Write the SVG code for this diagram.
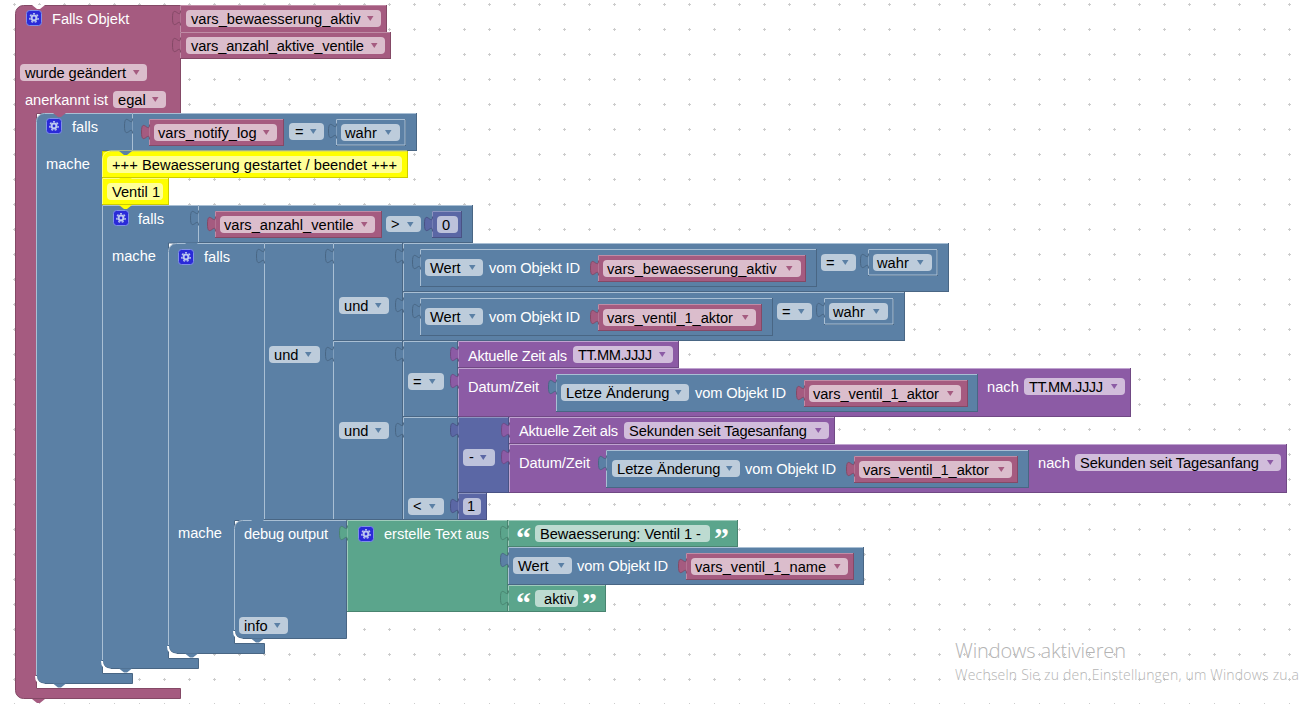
<svg xmlns="http://www.w3.org/2000/svg" width="1299" height="704" viewBox="0 0 1299 704">
<style>
text{font-family:"Liberation Sans",Arial,sans-serif;font-size:14.67px;fill:#000}
text.w{fill:#fff}
text.q{font-family:"Liberation Serif",serif;font-weight:bold;font-size:30px;fill:#fff}
text.wm{font-family:"Open Sans",sans-serif;font-weight:300;fill:#b4b4b4}
.bl{fill:#5b80a5;stroke:#496684}.m{fill:#a55b80;stroke:#844966}.p{fill:#8c5ba5;stroke:#704984}.i{fill:#5b67a5;stroke:#495284}.g{fill:#5ba58c;stroke:#498470}.y{fill:#ff0;stroke:#cc0}
.lb,.lm,.lp,.li,.lg,.ly,.cr{fill:none}
.lb{stroke:#a9bfd4}.lm{stroke:#c08ca6}.lp{stroke:#c0a4d0}.li{stroke:#8c95c0}.lg{stroke:#a0ccbc}.ly{stroke:#ffff80}
.cr{stroke:#fff;stroke-width:2}
.fb{fill:#bdccdb}.fm{fill:#dbbdcc}.fp{fill:#d1bddb}.fi{fill:#bdc2db}.fg{fill:#bddbd1}.fy{fill:#ff9}
.ab{fill:#5b80a5}.am{fill:#a55b80}.ap{fill:#8c5ba5}.ai{fill:#5b67a5}
.tb{fill:#5b80a5;stroke:#496684}.tm{fill:#a55b80;stroke:#844966}.tp{fill:#8c5ba5;stroke:#704984}.ti{fill:#5b67a5;stroke:#495284}.tg{fill:#5ba58c;stroke:#498470}
.nw{fill:#fff}.nm{fill:#a55b80}.nb{fill:#5b80a5}.ny{fill:#ff0}
</style>
<defs>
<pattern id="grid" patternUnits="userSpaceOnUse" width="25" height="25"><path d="M13 4.5h3M14.5 3v3" stroke="#ccc" stroke-width="1" fill="none"/></pattern>
<path id="a" d="M0 0h6.5l-3.25 5z"/>
<path id="tab" d="M0 0c0 10-8-8-8 7.5s8-2.5 8 7.5"/>
<path id="n" d="M0 0l5 4h3l5-4z"/>
<g id="gear">
<rect x="0.5" y="0.5" width="15" height="15" rx="3" fill="#2a2ad8" stroke="#7f8fe8"/>
<circle cx="8" cy="8" r="2.4" fill="none" stroke="#bcc8f0" stroke-width="2"/>
<circle cx="8" cy="8" r="4.2" fill="none" stroke="#bcc8f0" stroke-width="1.4" stroke-dasharray="2 1.66"/>
</g>
</defs>
<rect width="1299" height="704" fill="#fff"/>
<rect width="1299" height="704" fill="url(#grid)"/>

<g id="trigger">
<path class="m" d="M15.5 13.5a8 8 0 0 1 8-8H180.5V113.5H36.5V688.5H180.5V698.5H23.5a8 8 0 0 1-8-8z"/>
<use href="#n" x="32" y="5" class="nw"/>
<use href="#n" x="32" y="699" class="nm"/>
<use href="#gear" x="26" y="10"/>
<text class="w" x="52" y="24">Falls Objekt</text>
<rect class="fm" x="20" y="64" width="127" height="17" rx="4"/><text x="25" y="78" textLength="101">wurde geändert</text><use href="#a" x="133" y="70" class="am"/>
<text class="w" x="25" y="105" textLength="83">anerkannt ist</text>
<rect class="fm" x="113" y="91" width="53" height="17" rx="4"/><text x="118" y="105">egal</text><use href="#a" x="152" y="97" class="am"/>
</g>
<g id="var-bewaesserung">
<rect class="m" x="180.5" y="5.5" width="206" height="27"/><path class="lm" d="M180.5 32V5.5H386"/>
<use href="#tab" x="180.5" y="10.5" class="tm"/>
<rect class="fm" x="186" y="10" width="195" height="17" rx="4"/><text x="191" y="24">vars_bewaesserung_aktiv</text><use href="#a" x="367" y="16" class="am"/>
</g>
<g id="var-anzahl-aktive">
<rect class="m" x="180.5" y="32.5" width="210" height="26"/><path class="lm" d="M180.5 58V32.5H390"/>
<use href="#tab" x="180.5" y="37.5" class="tm"/>
<rect class="fm" x="186" y="37" width="199" height="17" rx="4"/><text x="191" y="51" textLength="173">vars_anzahl_aktive_ventile</text><use href="#a" x="371" y="43" class="am"/>
</g>

<g id="falls-1">
<path class="bl" d="M36.5 121.5a8 8 0 0 1 8-8H132.5V151H102.5V673.5H132.5V683.5H44.5a8 8 0 0 1-8-8z"/>
<path class="lb" d="M36.5 675V121.5a8 8 0 0 1 8-8H132"/>
<path class="cr" d="M36 676a8 8 0 0 0 8.500 8.500"/>
<use href="#n" x="53" y="113" class="nm"/>
<use href="#n" x="53" y="683.500" class="nb"/>
<use href="#gear" x="46" y="118"/>
<text class="w" x="72" y="132">falls</text>
<text class="w" x="46" y="169">mache</text>
</g>
<g id="cond-1">
<rect class="bl" x="132.5" y="113.5" width="284" height="37"/><path class="lb" d="M132.5 150V113.5H416"/>
<use href="#tab" x="132.5" y="118.5" class="tb"/>
<rect class="fb" x="289" y="123" width="35" height="17" rx="4"/><text x="295" y="137">=</text><use href="#a" x="310" y="129" class="ab"/>
</g>
<g id="var-notify">
<rect class="m" x="149.5" y="119.5" width="134" height="26"/><path class="lm" d="M149.5 145V119.5H283"/>
<use href="#tab" x="149.5" y="124.5" class="tm"/>
<rect class="fm" x="154" y="124" width="123" height="17" rx="4"/><text x="158" y="138">vars_notify_log</text><use href="#a" x="263" y="130" class="am"/>
</g>
<g id="wahr-1">
<rect class="bl" x="336.5" y="119.5" width="69" height="26"/><path class="lb" d="M336.5 145V119.5H405V145H337"/>
<use href="#tab" x="336.5" y="123.5" class="tb"/>
<rect class="fb" x="341" y="124" width="59" height="17" rx="4"/><text x="345" y="138">wahr</text><use href="#a" x="385" y="130" class="ab"/>
</g>

<g id="log-1">
<rect class="y" x="102.5" y="151.5" width="305" height="26"/><path class="ly" d="M102.5 177V159a8 8 0 0 1 8-8H407"/>
<use href="#n" x="119" y="151" class="nb"/>
<rect class="fy" x="107" y="156" width="295" height="17" rx="4"/><text x="112" y="170" textLength="285">+++ Bewaesserung gestartet / beendet +++</text>
</g>
<g id="log-2">
<rect class="y" x="102.5" y="178.5" width="66" height="26"/><path class="ly" d="M102.5 204V178.5H168"/>
<use href="#n" x="119" y="178" class="ny"/>
<rect class="fy" x="107" y="183" width="56" height="17" rx="4"/><text x="112" y="197">Ventil 1</text>
</g>

<g id="falls-2">
<path class="bl" d="M102.5 205.5H198.5V243H168.5V658.5H198.5V668.5H110.5a8 8 0 0 1-8-8z"/>
<path class="lb" d="M102.5 660V205.5H198"/>
<path class="cr" d="M102 661a8 8 0 0 0 8.500 8.500"/>
<use href="#n" x="119" y="205" class="ny"/>
<use href="#n" x="119" y="668.500" class="nb"/>
<use href="#gear" x="113" y="210"/>
<text class="w" x="138" y="224">falls</text>
<text class="w" x="112" y="261">mache</text>
</g>
<g id="cond-2">
<rect class="bl" x="198.5" y="205.5" width="274" height="37"/><path class="lb" d="M198.5 242V205.5H472"/>
<use href="#tab" x="198.5" y="210.5" class="tb"/>
<rect class="fb" x="386" y="216" width="35" height="16" rx="4"/><text x="391" y="229">&gt;</text><use href="#a" x="407" y="222" class="ab"/>
</g>
<g id="var-anzahl">
<rect class="m" x="215.5" y="211.5" width="166" height="26"/><path class="lm" d="M215.5 237V211.5H381"/>
<use href="#tab" x="215.5" y="216.5" class="tm"/>
<rect class="fm" x="220" y="216" width="155" height="17" rx="4"/><text x="224" y="230">vars_anzahl_ventile</text><use href="#a" x="361" y="222" class="am"/>
</g>
<g id="zero">
<rect class="i" x="432.5" y="211.5" width="29" height="26"/><path class="li" d="M432.5 237V211.5H461"/>
<use href="#tab" x="432.5" y="216.5" class="ti"/>
<rect class="fi" x="437" y="216" width="21" height="17" rx="4"/><text x="442" y="230">0</text>
</g>

<g id="falls-3">
<path class="bl" d="M168.5 251.5a8 8 0 0 1 8-8H264.5V520.5H234.5V643.5H264.5V653.5H176.5a8 8 0 0 1-8-8z"/>
<path class="lb" d="M168.5 645V251.5a8 8 0 0 1 8-8H264"/>
<path class="cr" d="M168 646a8 8 0 0 0 8.500 8.500"/>
<use href="#n" x="185" y="243" class="nb"/>
<use href="#n" x="185" y="653.500" class="nb"/>
<use href="#gear" x="178" y="249"/>
<text class="w" x="204" y="262">falls</text>
<text class="w" x="178" y="538">mache</text>
</g>
<g id="und-1">
<rect class="bl" x="264.5" y="243.5" width="69" height="276"/><path class="lb" d="M264.5 519V243.5H333"/>
<use href="#tab" x="264.5" y="248.5" class="tb"/>
<rect class="fb" x="269" y="346" width="51" height="17" rx="4"/><text x="274" y="360">und</text><use href="#a" x="305" y="352" class="ab"/>
</g>
<g id="und-2">
<rect class="bl" x="333.5" y="243.5" width="69" height="97"/><path class="lb" d="M333.5 340V243.5H402"/>
<use href="#tab" x="333.5" y="248.5" class="tb"/>
<rect class="fb" x="339" y="297" width="50" height="17" rx="4"/><text x="344" y="311">und</text><use href="#a" x="375" y="303" class="ab"/>
</g>
<g id="cmp-1">
<rect class="bl" x="403.5" y="243.5" width="545" height="48"/><path class="lb" d="M403.5 291V243.5H948"/>
<use href="#tab" x="403.5" y="248.5" class="tb"/>
<rect class="fb" x="821" y="254" width="35" height="17" rx="4"/><text x="826" y="268">=</text><use href="#a" x="842" y="260" class="ab"/>
</g>
<g id="wert-1">
<rect class="bl" x="420.5" y="249.5" width="396" height="37"/><path class="lb" d="M420.5 286V249.5H816"/>
<use href="#tab" x="420.5" y="254.5" class="tb"/>
<rect class="fb" x="425" y="259" width="58" height="17" rx="4"/><text x="430" y="273">Wert</text><use href="#a" x="469" y="265" class="ab"/>
<text class="w" x="489" y="273" textLength="91">vom Objekt ID</text>
</g>
<g id="var-bew-2">
<rect class="m" x="598.5" y="255.5" width="207" height="26"/><path class="lm" d="M598.5 281V255.5H805"/>
<use href="#tab" x="598.5" y="260.5" class="tm"/>
<rect class="fm" x="603" y="260" width="198" height="17" rx="4"/><text x="607" y="274">vars_bewaesserung_aktiv</text><use href="#a" x="786" y="266" class="am"/>
</g>
<g id="wahr-2">
<rect class="bl" x="868.5" y="249.5" width="69" height="26"/><path class="lb" d="M868.5 275V249.5H937V275H869"/>
<use href="#tab" x="868.5" y="253.5" class="tb"/>
<rect class="fb" x="873" y="254" width="59" height="17" rx="4"/><text x="877" y="268">wahr</text><use href="#a" x="917" y="260" class="ab"/>
</g>
<g id="cmp-2">
<rect class="bl" x="403.5" y="292.5" width="501" height="48"/><path class="lb" d="M403.5 340V292.5H904"/>
<use href="#tab" x="403.5" y="297.5" class="tb"/>
<rect class="fb" x="777" y="303" width="35" height="17" rx="4"/><text x="782" y="317">=</text><use href="#a" x="798" y="309" class="ab"/>
</g>
<g id="wert-2">
<rect class="bl" x="420.5" y="298.5" width="352" height="37"/><path class="lb" d="M420.5 335V298.5H772"/>
<use href="#tab" x="420.5" y="303.5" class="tb"/>
<rect class="fb" x="425" y="308" width="58" height="17" rx="4"/><text x="430" y="322">Wert</text><use href="#a" x="469" y="314" class="ab"/>
<text class="w" x="489" y="322" textLength="91">vom Objekt ID</text>
</g>
<g id="var-aktor-1">
<rect class="m" x="598.5" y="304.5" width="163" height="26"/><path class="lm" d="M598.5 330V304.5H761"/>
<use href="#tab" x="598.5" y="309.5" class="tm"/>
<rect class="fm" x="603" y="309" width="153" height="17" rx="4"/><text x="607" y="323" textLength="126">vars_ventil_1_aktor</text><use href="#a" x="742" y="315" class="am"/>
</g>
<g id="wahr-3">
<rect class="bl" x="824.5" y="298.5" width="69" height="26"/><path class="lb" d="M824.5 324V298.5H893V324H825"/>
<use href="#tab" x="824.5" y="302.5" class="tb"/>
<rect class="fb" x="829" y="303" width="59" height="17" rx="4"/><text x="833" y="317">wahr</text><use href="#a" x="873" y="309" class="ab"/>
</g>
<g id="und-3">
<rect class="bl" x="333.5" y="341.5" width="69" height="178"/><path class="lb" d="M333.5 519V341.5H402"/>
<use href="#tab" x="333.5" y="346.5" class="tb"/>
<rect class="fb" x="339" y="422" width="50" height="17" rx="4"/><text x="344" y="436">und</text><use href="#a" x="375" y="428" class="ab"/>
</g>
<g id="cmp-3">
<rect class="bl" x="403.5" y="341.5" width="54" height="75"/><path class="lb" d="M403.5 416V341.5H457"/>
<use href="#tab" x="403.5" y="346.5" class="tb"/>
<rect class="fb" x="408" y="373" width="36" height="17" rx="4"/><text x="413" y="387">=</text><use href="#a" x="429" y="379" class="ab"/>
</g>
<g id="zeit-1">
<rect class="p" x="458.5" y="341.5" width="220" height="26"/><path class="lp" d="M458.5 367V341.5H678"/>
<use href="#tab" x="458.5" y="346.5" class="tp"/>
<text class="w" x="468" y="361" textLength="99">Aktuelle Zeit als</text>
<rect class="fp" x="573" y="346" width="100" height="17" rx="4"/><text x="578" y="360" textLength="74">TT.MM.JJJJ</text><use href="#a" x="659" y="352" class="ap"/>
</g>
<g id="datum-1">
<rect class="p" x="458.5" y="368.5" width="672" height="48"/><path class="lp" d="M458.5 416V368.5H1130"/>
<use href="#tab" x="458.5" y="373.5" class="tp"/>
<text class="w" x="468" y="392" textLength="71">Datum/Zeit</text>
<text class="w" x="987" y="392">nach</text>
<rect class="fp" x="1024" y="378" width="101" height="17" rx="4"/><text x="1029" y="392" textLength="74">TT.MM.JJJJ</text><use href="#a" x="1111" y="384" class="ap"/>
</g>
<g id="aend-1">
<rect class="bl" x="556.5" y="374.5" width="421" height="37"/><path class="lb" d="M556.5 411V374.5H977"/>
<use href="#tab" x="556.5" y="379.5" class="tb"/>
<rect class="fb" x="561" y="384" width="128" height="17" rx="4"/><text x="566" y="398">Letze Änderung</text><use href="#a" x="675" y="390" class="ab"/>
<text class="w" x="695" y="398" textLength="91">vom Objekt ID</text>
</g>
<g id="var-aktor-2">
<rect class="m" x="804.5" y="380.5" width="163" height="26"/><path class="lm" d="M804.5 406V380.5H967"/>
<use href="#tab" x="804.5" y="385.5" class="tm"/>
<rect class="fm" x="809" y="385" width="152" height="17" rx="4"/><text x="813" y="399" textLength="126">vars_ventil_1_aktor</text><use href="#a" x="947" y="391" class="am"/>
</g>
<g id="cmp-4">
<rect class="bl" x="403.5" y="417.5" width="54" height="102"/><path class="lb" d="M403.5 519V417.5H457"/>
<use href="#tab" x="403.5" y="422.5" class="tb"/>
<rect class="fb" x="408" y="498" width="36" height="17" rx="4"/><text x="413" y="511">&lt;</text><use href="#a" x="429" y="504" class="ab"/>
</g>
<g id="minus">
<rect class="i" x="458.5" y="417.5" width="50" height="75"/><path class="li" d="M458.5 492V417.5H508"/>
<use href="#tab" x="458.5" y="422.5" class="ti"/>
<rect class="fi" x="463" y="449" width="32" height="17" rx="4"/><text x="469" y="462">-</text><use href="#a" x="480" y="455" class="ai"/>
</g>
<g id="one">
<rect class="i" x="458.5" y="493.5" width="28" height="26"/><path class="li" d="M458.5 519V493.5H486"/>
<use href="#tab" x="458.5" y="498.5" class="ti"/>
<rect class="fi" x="463" y="498" width="18" height="17" rx="4"/><text x="467" y="511">1</text>
</g>
<g id="zeit-2">
<rect class="p" x="509.5" y="417.5" width="325" height="26"/><path class="lp" d="M509.5 443V417.5H834"/>
<use href="#tab" x="509.5" y="422.5" class="tp"/>
<text class="w" x="519" y="436" textLength="99">Aktuelle Zeit als</text>
<rect class="fp" x="624" y="422" width="205" height="17" rx="4"/><text x="629" y="436" textLength="178">Sekunden seit Tagesanfang</text><use href="#a" x="815" y="428" class="ap"/>
</g>
<g id="datum-2">
<rect class="p" x="509.5" y="444.5" width="777" height="48"/><path class="lp" d="M509.5 492V444.5H1286"/>
<use href="#tab" x="509.5" y="449.5" class="tp"/>
<text class="w" x="519" y="468" textLength="71">Datum/Zeit</text>
<text class="w" x="1038" y="468">nach</text>
<rect class="fp" x="1075" y="454" width="206" height="17" rx="4"/><text x="1080" y="468" textLength="179">Sekunden seit Tagesanfang</text><use href="#a" x="1267" y="460" class="ap"/>
</g>
<g id="aend-2">
<rect class="bl" x="606.5" y="450.5" width="422" height="37"/><path class="lb" d="M606.5 487V450.5H1028"/>
<use href="#tab" x="606.5" y="455.5" class="tb"/>
<rect class="fb" x="612" y="460" width="128" height="17" rx="4"/><text x="617" y="474">Letze Änderung</text><use href="#a" x="726" y="466" class="ab"/>
<text class="w" x="745" y="474" textLength="91">vom Objekt ID</text>
</g>
<g id="var-aktor-3">
<rect class="m" x="854.5" y="456.5" width="163" height="26"/><path class="lm" d="M854.5 482V456.5H1017"/>
<use href="#tab" x="854.5" y="461.5" class="tm"/>
<rect class="fm" x="859" y="461" width="153" height="17" rx="4"/><text x="863" y="475" textLength="126">vars_ventil_1_aktor</text><use href="#a" x="998" y="467" class="am"/>
</g>

<g id="debug">
<path class="bl" d="M234.5 528.5a8 8 0 0 1 8-8H346.5V638.5H242.5a8 8 0 0 1-8-8z"/>
<path class="lb" d="M234.5 630V528.5a8 8 0 0 1 8-8H346"/>
<path class="cr" d="M234 631a8 8 0 0 0 8.500 8.500"/>
<use href="#n" x="251" y="520" class="nb"/>
<use href="#n" x="251" y="638.500" class="nb"/>
<text class="w" x="244" y="539" textLength="84">debug output</text>
<rect class="fb" x="239" y="617" width="49" height="17" rx="4"/><text x="244" y="631">info</text><use href="#a" x="274" y="623" class="ab"/>
</g>
<g id="text-join">
<rect class="g" x="347.5" y="520.5" width="160" height="91"/><path class="lg" d="M347.5 611V520.5H507"/>
<use href="#tab" x="347.5" y="525.5" class="tg"/>
<use href="#gear" x="358" y="526"/>
<text class="w" x="384" y="539" textLength="105">erstelle Text aus</text>
</g>
<g id="text-1">
<rect class="g" x="508.5" y="520.5" width="229" height="26"/><path class="lg" d="M508.5 546V520.5H737"/>
<use href="#tab" x="508.5" y="525.5" class="tg"/>
<text class="q" x="516" y="548">“</text>
<rect class="fg" x="535" y="525" width="175" height="17" rx="4"/><text x="540" y="539" textLength="161">Bewaesserung: Ventil 1 -</text>
<text class="q" x="714" y="548">”</text>
</g>
<g id="wert-3">
<rect class="bl" x="508.5" y="547.5" width="355" height="37"/><path class="lb" d="M508.5 584V547.5H863"/>
<use href="#tab" x="508.5" y="552.5" class="tb"/>
<rect class="fb" x="513" y="557" width="59" height="17" rx="4"/><text x="518" y="571">Wert</text><use href="#a" x="558" y="563" class="ab"/>
<text class="w" x="577" y="571" textLength="91">vom Objekt ID</text>
</g>
<g id="var-name">
<rect class="m" x="686.5" y="553.5" width="167" height="26"/><path class="lm" d="M686.5 579V553.5H853"/>
<use href="#tab" x="686.5" y="558.5" class="tm"/>
<rect class="fm" x="691" y="558" width="157" height="17" rx="4"/><text x="695" y="572">vars_ventil_1_name</text><use href="#a" x="834" y="564" class="am"/>
</g>
<g id="text-2">
<rect class="g" x="508.5" y="585.5" width="97" height="26"/><path class="lg" d="M508.5 611V585.5H605"/>
<use href="#tab" x="508.5" y="590.5" class="tg"/>
<text class="q" x="516" y="613">“</text>
<rect class="fg" x="535" y="590" width="43" height="17" rx="4"/><text x="544" y="604">aktiv</text>
<text class="q" x="582" y="613">”</text>
</g>

<g id="watermark">
<text class="wm" x="955" y="658" style="font-size:20px" textLength="171">Windows aktivieren</text>
<text class="wm" x="955" y="680" style="font-size:14px" textLength="344">Wechseln Sie zu den Einstellungen, um Windows zu a</text>
</g>
</svg>
